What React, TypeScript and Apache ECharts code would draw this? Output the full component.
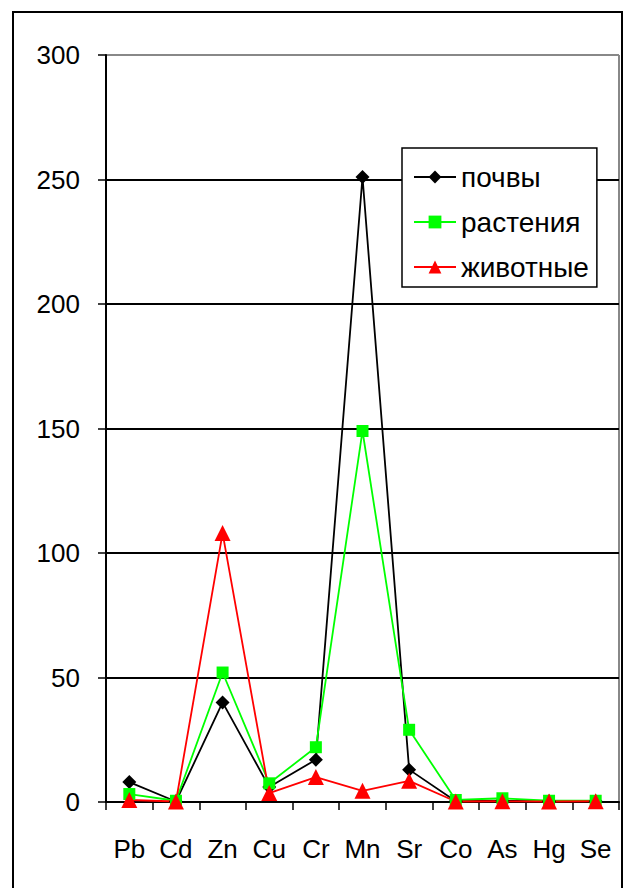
import React, { useEffect, useRef } from "react";
import * as echarts from "echarts";

const categories = ["Pb", "Cd", "Zn", "Cu", "Cr", "Mn", "Sr", "Co", "As", "Hg", "Se"];
const soils = [8, 0.2, 40, 6, 17, 251, 13, 0.3, 0.5, 0.3, 0.3];
const plants = [3.2, 0.5, 52, 7.5, 22, 149, 29, 0.8, 1.5, 0.5, 0.5];
const animals = [0.8, 0.2, 108, 3.6, 10, 4.5, 8.5, 0.2, 0.3, 0.2, 0.3];
const seriesNames = ["почвы", "растения", "животные"];
const yTicks = { min: 0, max: 300, interval: 50 };

const FONT = "'Liberation Sans', Arial, sans-serif";

export default function App() {
  const ref = useRef<HTMLDivElement>(null);
  useEffect(() => {
    if (!ref.current) return;
    const chart = echarts.init(ref.current, undefined, { renderer: "svg" });
    chart.setOption({
      animation: false,
      backgroundColor: "#fff",
      textStyle: { fontFamily: FONT },
      grid: { left: 106, top: 55, right: 6, bottom: 86 },
      graphic: [
        {
          type: "rect",
          shape: { x: 13, y: 12, width: 609, height: 900 },
          style: { fill: "none", stroke: "#000", lineWidth: 2 },
          silent: true,
          z: 100,
        },
        {
          type: "line",
          shape: { x1: 619, y1: 55, x2: 619, y2: 802 },
          style: { stroke: "#888", lineWidth: 2 },
          silent: true,
        },
      ],
      legend: {
        orient: "vertical",
        left: 402,
        top: 148,
        data: seriesNames,
        itemWidth: 42,
        itemHeight: 16,
        itemGap: 17,
        padding: [15, 8, 6, 11],
        borderColor: "#000",
        borderWidth: 1.5,
        backgroundColor: "#fff",
        textStyle: { fontSize: 28, color: "#000", fontFamily: FONT, lineHeight: 28 },
      },
      xAxis: {
        type: "category",
        data: categories,
        boundaryGap: true,
        axisLine: { lineStyle: { color: "#000", width: 2 } },
        axisTick: { show: true, length: 8, lineStyle: { color: "#000", width: 1.5 } },
        axisLabel: { fontSize: 26, color: "#000", margin: 34, interval: 0, fontFamily: FONT },
        splitLine: { show: false },
      },
      yAxis: {
        type: "value",
        min: yTicks.min,
        max: yTicks.max,
        interval: yTicks.interval,
        axisLine: { show: true, lineStyle: { color: "#000", width: 2 } },
        axisTick: { show: true, length: 8, lineStyle: { color: "#000", width: 1.5 } },
        axisLabel: { fontSize: 26, color: "#000", margin: 26, fontFamily: FONT },
        splitLine: {
          show: true,
          lineStyle: { color: ["#000", "#000", "#000", "#000", "#000", "#000", "#888"], width: 2 },
        },
      },
      series: [
        {
          name: seriesNames[0],
          type: "line",
          data: soils,
          symbol: "diamond",
          symbolSize: 14,
          color: "#000",
          lineStyle: { color: "#000", width: 1.8 },
          itemStyle: { color: "#000" },
        },
        {
          name: seriesNames[1],
          type: "line",
          data: plants,
          symbol: "rect",
          symbolSize: 12,
          color: "#00ff00",
          lineStyle: { color: "#00ff00", width: 1.8 },
          itemStyle: { color: "#00ff00" },
        },
        {
          name: seriesNames[2],
          type: "line",
          data: animals,
          symbol: "triangle",
          symbolSize: 16,
          color: "#ff0000",
          lineStyle: { color: "#ff0000", width: 1.8 },
          itemStyle: { color: "#ff0000" },
        },
      ],
    });
    return () => chart.dispose();
  }, []);
  return (
    <div
      ref={ref}
      style={{ position: "fixed", left: 0, top: 0, width: 625, height: 888, background: "#fff" }}
    />
  );
}
